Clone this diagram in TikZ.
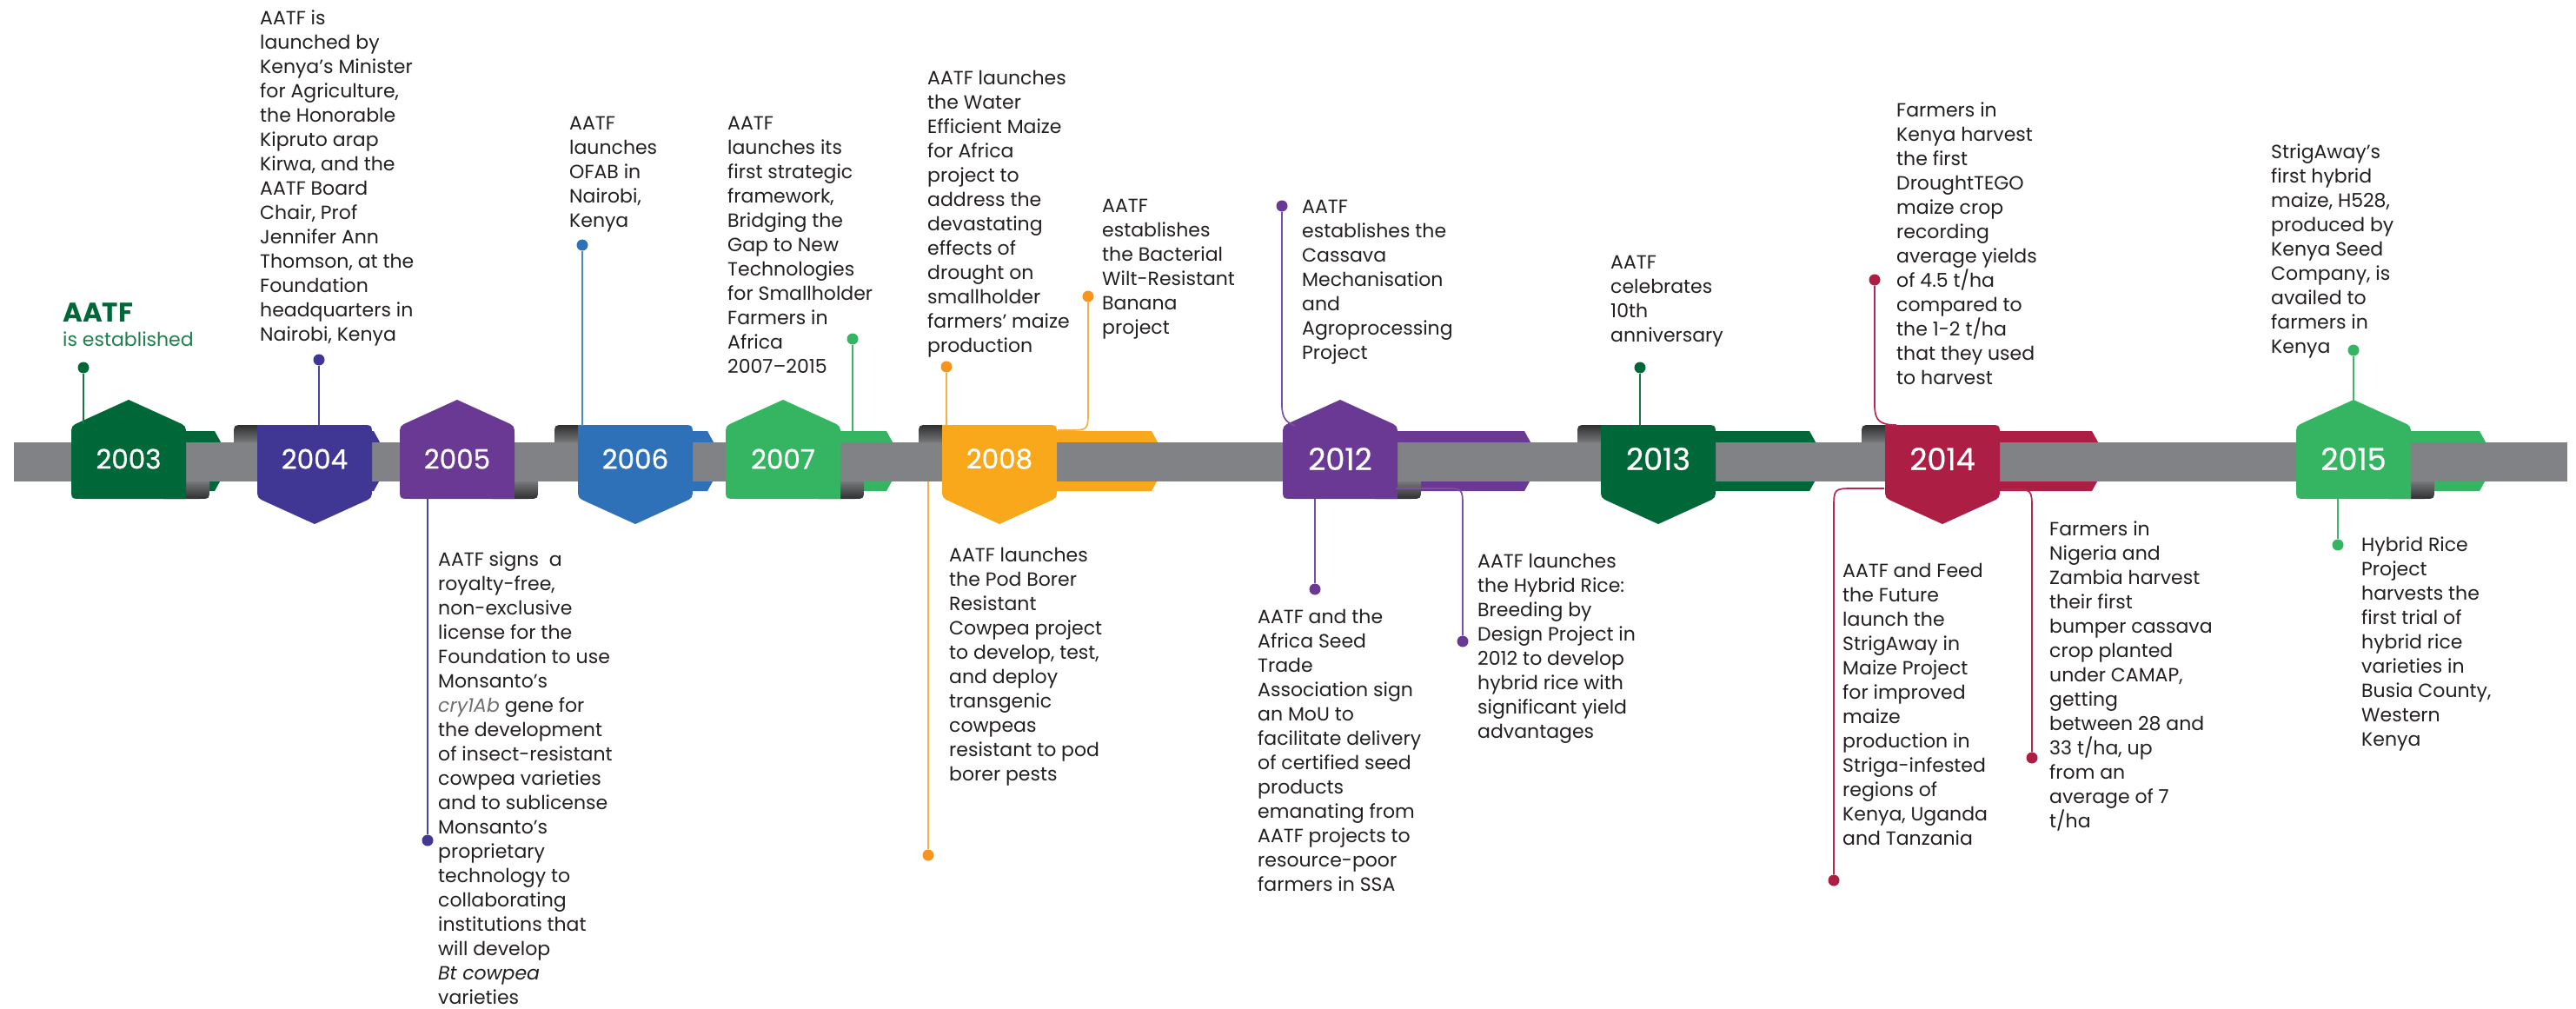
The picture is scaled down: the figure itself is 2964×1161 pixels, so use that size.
\documentclass[tikz,border=0pt]{standalone}
\usepackage{fontspec}
\setmainfont{Poppins}
\newfontfamily\yearfont{Poppins}[FakeBold=0.7]
\usetikzlibrary{calc}

% palette
\definecolor{ink}{HTML}{231F20}
\definecolor{barc}{HTML}{808285}
\definecolor{cGreenD}{HTML}{006838}
\definecolor{cIndigo}{HTML}{403795}
\definecolor{cPurple}{HTML}{6A3994}
\definecolor{cBlue}{HTML}{2F71B8}
\definecolor{cGreen}{HTML}{35B561}
\definecolor{cOrange}{HTML}{F9A81B}
\definecolor{cCrimson}{HTML}{AD1E45}
\definecolor{curlDark}{HTML}{2F2F30}
\definecolor{curlLight}{HTML}{77787B}
\definecolor{lGreenD}{HTML}{1A7446}
\definecolor{lIndigo}{HTML}{4A43A0}
\definecolor{lBlue}{HTML}{4A88CA}
\definecolor{lGreen}{HTML}{3DB56A}
\definecolor{lOrange}{HTML}{F9B042}
\definecolor{dOrange}{HTML}{F7941D}
\definecolor{lPurple}{HTML}{7A4FA0}
\definecolor{lCrimson}{HTML}{B52650}
\definecolor{estGreen}{HTML}{1E7F4A}
\definecolor{italGray}{HTML}{6D6E71}

% ribbon tail behind the bar: #1 start x, #2 end x, #3 colour
\newcommand\tailpart[3]{%
  \fill[#3] (#1,496) -- (#2,496) -- ({#2+19},530.5) -- (#2,565) -- (#1,565) -- cycle;}

% badge pointing up, curl at bottom right: #1 centre x, #2 colour
\newcommand\badgeup[2]{%
  \shade[top color=curlLight, bottom color=curlDark]
    ({#1+40},554) -- ({#1+93},554) -- ({#1+93},563)
    .. controls ({#1+93},574) .. ({#1+82},574) -- ({#1+40},574) -- cycle;
  \fill[#2] ({#1+66},574) -- ({#1+66},501)
    .. controls ({#1+66},490) .. ({#1+56},485.5) -- (#1,460)
    -- ({#1-56},485.5) .. controls ({#1-66},490) .. ({#1-66},501)
    -- ({#1-66},562) .. controls ({#1-66},574) .. ({#1-54},574) -- cycle;}

% badge pointing down, curl at top left: #1 centre x, #2 colour
\newcommand\badgedown[2]{%
  \shade[top color=curlDark, bottom color=curlLight]
    ({#1-40},509) -- ({#1-93},509) -- ({#1-93},500)
    .. controls ({#1-93},489) .. ({#1-82},489) -- ({#1-40},489) -- cycle;
  \fill[#2] ({#1-66},489) -- ({#1+54},489)
    .. controls ({#1+66},489) .. ({#1+66},501) -- ({#1+66},562)
    .. controls ({#1+66},573) .. ({#1+56},577.5) -- (#1,603)
    -- ({#1-56},577.5) .. controls ({#1-66},573) .. ({#1-66},562) -- cycle;}

\begin{document}
\begin{tikzpicture}[x=1pt,y=-1pt,
  txt/.style={anchor=north west, inner sep=0pt, align=left,
    font=\fontsize{22}{28}\selectfont, text=ink},
  yr/.style={inner sep=0pt, text=white, font=\yearfont\fontsize{31}{31}\selectfont},
  yrb/.style={inner sep=0pt, text=white, font=\yearfont\fontsize{35}{35}\selectfont},
  dot/.style={circle, inner sep=0pt, minimum size=13pt, fill=#1},
  conn/.style={line width=1.7pt, draw=#1}]

\useasboundingbox (0,0) rectangle (2964,1161);

% ribbon tails
\tailpart{148}{247}{cGreenD}
\tailpart{362}{430}{cIndigo}
\tailpart{731}{814}{cBlue}
\tailpart{901}{1020}{cGreen}
\tailpart{1150}{1325}{cOrange}
\tailpart{1542}{1754}{cPurple}
\tailpart{1908}{2082}{cGreenD}
\tailpart{2235}{2407}{cCrimson}
\tailpart{2708}{2853}{cGreen}

% the timeline bar
\fill[barc] (16,509) rectangle (2954,554);

% year badges
\badgeup{148}{cGreenD}
\badgedown{362}{cIndigo}
\badgeup{526}{cPurple}
\badgedown{731}{cBlue}
\badgeup{901}{cGreen}
\badgedown{1150}{cOrange}
\badgeup{1542}{cPurple}
\badgedown{1908}{cGreenD}
\badgedown{2235}{cCrimson}
\badgeup{2708}{cGreen}

\node[yr] (y2003) at (148,528) {2003};
\node[yr] (y2004) at (362,528) {2004};
\node[yr] (y2005) at (526,528) {2005};
\node[yr] (y2006) at (731,528) {2006};
\node[yr] (y2007) at (901,528) {2007};
\node[yr] (y2008) at (1150,528) {2008};
\node[yrb] (y2012) at (1542,528) {2012};
\node[yrb] (y2013) at (1908,528) {2013};
\node[yrb] (y2014) at (2235,528) {2014};
\node[yrb] (y2015) at (2708,528) {2015};

% event texts above the bar
\node[anchor=base west, inner sep=0pt, text=cGreenD,
  font=\fontsize{31}{31}\selectfont\bfseries] (t03a) at (72,370) {AATF};
\node[anchor=base west, inner sep=0pt, text=estGreen,
  font=\fontsize{22}{28}\selectfont] (t03b) at (72,398) {is established};

\node[txt] (t04) at (299,12) {AATF is\\ launched by\\ Kenya’s Minister\\ for Agriculture,\\ the Honorable\\ Kipruto arap\\ Kirwa, and the\\ AATF Board\\ Chair, Prof\\ Jennifer Ann\\ Thomson, at the\\ Foundation\\ headquarters in\\ Nairobi, Kenya};
\node[txt] (t06) at (655,134) {AATF\\ launches\\ OFAB in\\ Nairobi,\\ Kenya};
\node[txt] (t07) at (837,134) {AATF\\ launches its\\ first strategic\\ framework,\\ Bridging the\\ Gap to New\\ Technologies\\ for Smallholder\\ Farmers in\\ Africa\\ 2007–2015};
\node[txt] (t08a) at (1067,81) {AATF launches\\ the Water\\ Efficient Maize\\ for Africa\\ project to\\ address the\\ devastating\\ effects of\\ drought on\\ smallholder\\ farmers’ maize\\ production};
\node[txt] (t08b) at (1268,229) {AATF\\ establishes\\ the Bacterial\\ Wilt-Resistant\\ Banana\\ project};
\node[txt] (t12a) at (1498,230) {AATF\\ establishes the\\ Cassava\\ Mechanisation\\ and\\ Agroprocessing\\ Project};
\node[txt] (t13) at (1853,294) {AATF\\ celebrates\\ 10th\\ anniversary};
\node[txt] (t14a) at (2182,118) {Farmers in\\ Kenya harvest\\ the first\\ DroughtTEGO\\ maize crop\\ recording\\ average yields\\ of 4.5 t/ha\\ compared to\\ the 1-2 t/ha\\ that they used\\ to harvest};
\node[txt] (t15a) at (2613,166) {StrigAway’s\\ first hybrid\\ maize, H528,\\ produced by\\ Kenya Seed\\ Company, is\\ availed to\\ farmers in\\ Kenya};

% event texts below the bar
\node[txt] (t05) at (504,635) {AATF signs\ \ a\\ royalty-free,\\ non-exclusive\\ license for the\\ Foundation to use\\ Monsanto’s\\ {\itshape\color{italGray}cry1Ab} gene for\\ the development\\ of insect-resistant\\ cowpea varieties\\ and to sublicense\\ Monsanto’s\\ proprietary\\ technology to\\ collaborating\\ institutions that\\ will develop\\ {\itshape Bt cowpea}\\ varieties};
\node[txt] (t08c) at (1092,630) {AATF launches\\ the Pod Borer\\ Resistant\\ Cowpea project\\ to develop, test,\\ and deploy\\ transgenic\\ cowpeas\\ resistant to pod\\ borer pests};
\node[txt] (t12b) at (1447,701) {AATF and the\\ Africa Seed\\ Trade\\ Association sign\\ an MoU to\\ facilitate delivery\\ of certified seed\\ products\\ emanating from\\ AATF projects to\\ resource-poor\\ farmers in SSA};
\node[txt] (t12c) at (1700,637) {AATF launches\\ the Hybrid Rice:\\ Breeding by\\ Design Project in\\ 2012 to develop\\ hybrid rice with\\ significant yield\\ advantages};
\node[txt] (t14b) at (2120,648) {AATF and Feed\\ the Future\\ launch the\\ StrigAway in\\ Maize Project\\ for improved\\ maize\\ production in\\ Striga-infested\\ regions of\\ Kenya, Uganda\\ and Tanzania};
\node[txt] (t14c) at (2358,600) {Farmers in\\ Nigeria and\\ Zambia harvest\\ their first\\ bumper cassava\\ crop planted\\ under CAMAP,\\ getting\\ between 28 and\\ 33 t/ha, up\\ from an\\ average of 7\\ t/ha};
\node[txt] (t15b) at (2717,618) {Hybrid Rice\\ Project\\ harvests the\\ first trial of\\ hybrid rice\\ varieties in\\ Busia County,\\ Western\\ Kenya};

% marker dots
\node[dot=cGreenD] (d03) at (96,423) {};
\node[dot=cIndigo] (d04) at (367,414) {};
\node[dot=cBlue] (d06) at (670,282) {};
\node[dot=cGreen] (d07) at (981,390) {};
\node[dot=dOrange] (d08a) at (1089,422) {};
\node[dot=dOrange] (d08b) at (1252,341) {};
\node[dot=cPurple] (d12a) at (1475,237) {};
\node[dot=cGreenD] (d13) at (1887,423) {};
\node[dot=cCrimson] (d14a) at (2157,322) {};
\node[dot=cGreen] (d15a) at (2708,403) {};
\node[dot=cIndigo] (d05) at (492,967) {};
\node[dot=dOrange] (d08c) at (1068,984) {};
\node[dot=cPurple] (d12b) at (1513,678) {};
\node[dot=cPurple] (d12c) at (1683,738) {};
\node[dot=cCrimson] (d14b) at (2110,1013) {};
\node[dot=cCrimson] (d14c) at (2338,872) {};
\node[dot=cGreen] (d15b) at (2690,627) {};

% connector ends on the badges and ribbons
\coordinate (e03) at (96,488);
\coordinate (e04) at (367,490);
\coordinate (e06) at (670,490);
\coordinate (e07) at (981,497);
\coordinate (e08a) at (1089,490);
\coordinate (e08b) at (1217,495);
\coordinate (e12a) at (1490,490);
\coordinate (e13) at (1887,490);
\coordinate (e14a) at (2182,489);
\coordinate (e15a) at (2708,461);
\coordinate (e05) at (492,574);
\coordinate (e08c) at (1068,554);
\coordinate (e12b) at (1513,574);
\coordinate (e12c) at (1606,562);
\coordinate (e14b) at (2168,562);
\coordinate (e14c) at (2303,563);
\coordinate (e15b) at (2690,574);

% connectors
\draw[conn=lGreenD] (d03) -- (e03);
\draw[conn=lIndigo] (d04) -- (e04);
\draw[conn=lBlue] (d06) -- (e06);
\draw[conn=lGreen] (d07) -- (e07);
\draw[conn=lOrange] (d08a) -- (e08a);
\draw[conn=lOrange] (d08b) -- (1252,472) .. controls (1252,495) .. (1229,495) -- (e08b);
\draw[conn=lPurple] (d12a) -- (1475,466) .. controls (1475,481) and (1480,486) .. (e12a);
\draw[conn=lGreenD] (d13) -- (e13);
\draw[conn=lCrimson] (d14a) -- (2157,466) .. controls (2157,484) and (2163,489) .. (e14a);
\draw[conn=lGreen] (d15a) -- (e15a);
\draw[conn=lIndigo] (d05) -- (e05);
\draw[conn=lOrange] (d08c) -- (e08c);
\draw[conn=lPurple] (d12b) -- (e12b);
\draw[conn=lPurple] (d12c) -- (1683,584) .. controls (1683,562) .. (1661,562) -- (e12c);
\draw[conn=lCrimson] (d14b) -- (2110,586) .. controls (2110,562) .. (2134,562) -- (e14b);
\draw[conn=lCrimson] (d14c) -- (2338,587) .. controls (2338,563) .. (2314,563) -- (e14c);
\draw[conn=lGreen] (d15b) -- (e15b);

\end{tikzpicture}
\end{document}
